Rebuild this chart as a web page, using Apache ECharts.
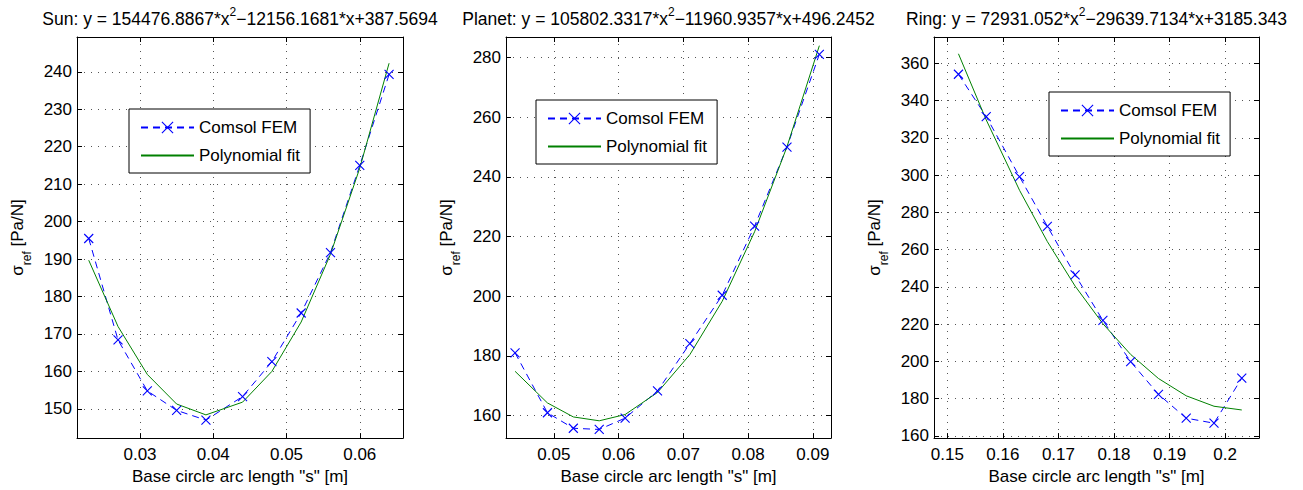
<!DOCTYPE html>
<html><head><meta charset="utf-8">
<script src="https://cdn.jsdelivr.net/npm/echarts@6/dist/echarts.min.js"></script>
<style>html,body{margin:0;padding:0;background:#fff}#c{width:1303px;height:490px}</style>
</head><body><div id="c"></div>
<script>
// ---- data ----
const sunX      = [0.023, 0.027, 0.031, 0.035, 0.039, 0.044, 0.048, 0.052, 0.056, 0.060, 0.064];
const sunFEM    = [195.5, 168.4, 154.8, 149.6, 147.0, 153.3, 162.6, 175.6, 191.7, 215.0, 239.3];
const sunFit    = [189.7, 172.0, 159.2, 151.3, 148.4, 151.8, 160.0, 173.2, 191.3, 214.3, 242.3];

const planetX   = [0.044, 0.049, 0.053, 0.057, 0.061, 0.066, 0.071, 0.076, 0.081, 0.086, 0.091];
const planetFEM = [181.0, 160.9, 155.7, 155.3, 159.1, 168.2, 184.1, 200.3, 223.5, 250.0, 281.1];
const planetFit = [174.8, 164.2, 159.5, 158.2, 160.3, 167.7, 180.4, 198.3, 221.6, 250.1, 284.0];

const ringX     = [0.152, 0.157, 0.163, 0.168, 0.173, 0.178, 0.183, 0.188, 0.193, 0.198, 0.203];
const ringFEM   = [354.1, 331.4, 299.1, 272.5, 246.4, 222.0, 199.8, 182.3, 169.5, 166.8, 191.0];
const ringFit   = [365.1, 329.6, 291.8, 264.3, 240.4, 220.2, 203.7, 190.8, 181.5, 175.9, 173.9];

const seriesNames = ['Comsol FEM', 'Polynomial fit'];
const titleParts = [
  ['Sun: y = 154476.8867*x', '2', '\u221212156.1681*x+387.5694'],
  ['Planet: y = 105802.3317*x', '2', '\u221211960.9357*x+496.2452'],
  ['Ring: y = 72931.052*x', '2', '\u221229639.7134*x+3185.343']
];
const xAxisName = 'Base circle arc length "s" [m]';
const yAxisName = ['\u03c3', 'ref', ' [Pa/N]'];

// ---- layout ----
const FONT = '"Liberation Sans", Arial, Helvetica, sans-serif';
const panels = [
  { x: sunX, fem: sunFEM, fit: sunFit, xr: [0.0214, 0.0659], yr: [142.2, 249.3], xs: 0.01, ys: 10,
    grid: { left: 77, top: 37, width: 326, height: 402 }, leg: { left: 129, top: 109 } },
  { x: planetX, fem: planetFEM, fit: planetFit, xr: [0.0426, 0.0928], yr: [152.4, 286.9], xs: 0.01, ys: 20,
    grid: { left: 506, top: 37, width: 325, height: 402 }, leg: { left: 536, top: 100 } },
  { x: ringX, fem: ringFEM, fit: ringFit, xr: [0.1476, 0.2061], yr: [158.8, 374.1], xs: 0.01, ys: 20,
    grid: { left: 934, top: 37, width: 325, height: 402 }, leg: { left: 1049, top: 92 } }
];

const grids = [], xAxes = [], yAxes = [], series = [], legends = [], graphics = [];
const crossPath = 'path://M0,0L10,10M10,0L0,10';
const axisLineStyle = { show: true, lineStyle: { color: '#000', width: 1 } };
const gridLine = { show: true, lineStyle: { color: '#555', width: 1, type: [1, 6] } };

panels.forEach((p, i) => {
  grids.push(Object.assign({ containLabel: false, show: false }, p.grid));
  const xb = {
    type: 'value', gridIndex: i, min: p.xr[0], max: p.xr[1], minInterval: p.xs, maxInterval: p.xs,
    axisLine: axisLineStyle, axisTick: { show: true, inside: true, length: 5, lineStyle: { color: '#000' } },
    axisLabel: { show: true, showMinLabel: false, showMaxLabel: false, color: '#000', fontSize: 17, fontFamily: FONT, margin: 8 },
    splitLine: gridLine
  };
  xAxes.push(Object.assign({}, xb, {
    position: 'bottom', name: xAxisName, nameLocation: 'middle', nameGap: 28,
    nameTextStyle: { color: '#000', fontSize: 17, fontFamily: FONT }
  }));
  xAxes.push(Object.assign({}, xb, { position: 'top', axisLabel: { show: false }, splitLine: { show: false } }));
  const yb = {
    type: 'value', gridIndex: i, min: p.yr[0], max: p.yr[1], minInterval: p.ys, maxInterval: p.ys,
    axisLine: axisLineStyle, axisTick: { show: true, inside: true, length: 5, lineStyle: { color: '#000' } },
    axisLabel: { show: true, showMinLabel: false, showMaxLabel: false, color: '#000', fontSize: 17, fontFamily: FONT, margin: 5 },
    splitLine: gridLine
  };
  yAxes.push(Object.assign({}, yb, {
    position: 'left', name: '{n|' + yAxisName[0] + '}{s|' + yAxisName[1] + '}{n|' + yAxisName[2] + '}',
    nameLocation: 'middle', nameGap: 44, nameRotate: 90,
    nameTextStyle: {
      color: '#000', fontSize: 17, fontFamily: FONT,
      rich: {
        n: { fontSize: 17, fontFamily: FONT, color: '#000', lineHeight: 24, verticalAlign: 'top' },
        s: { fontSize: 12, fontFamily: FONT, color: '#000', lineHeight: 24, verticalAlign: 'bottom' }
      }
    }
  }));
  yAxes.push(Object.assign({}, yb, { position: 'right', axisLabel: { show: false }, splitLine: { show: false } }));

  series.push({
    name: seriesNames[0], type: 'line', xAxisIndex: 2 * i, yAxisIndex: 2 * i,
    data: p.x.map((v, k) => [v, p.fem[k]]),
    symbol: crossPath, symbolSize: 9, showSymbol: true, showAllSymbol: true,
    lineStyle: { color: '#0000ff', width: 1, type: [7, 5] },
    itemStyle: { color: '#0000ff', borderColor: '#0000ff', borderWidth: 1.1 },
    emphasis: { disabled: true }, z: 3
  });
  series.push({
    name: seriesNames[1], type: 'line', xAxisIndex: 2 * i, yAxisIndex: 2 * i,
    data: p.x.map((v, k) => [v, p.fit[k]]),
    symbol: 'none', lineStyle: { color: '#008000', width: 1 }, itemStyle: { color: '#008000' },
    emphasis: { disabled: true }, z: 3
  });
  legends.push({
    data: [
      { name: seriesNames[0], itemStyle: { borderWidth: 1.1 } },
      { name: seriesNames[1], itemStyle: { opacity: 0, borderWidth: 0 } }
    ],
    orient: 'vertical', left: p.leg.left, top: p.leg.top,
    itemWidth: 53, itemHeight: 14, itemGap: 11, padding: [10, 10, 9, 11],
    backgroundColor: '#fff', borderColor: '#000', borderWidth: 1, borderRadius: 0,
    selectedMode: false, z: 10,
    textStyle: { color: '#000', fontSize: 17, fontFamily: FONT }
  });
  const t = titleParts[i];
  graphics.push({
    type: 'text', x: p.grid.left + p.grid.width / 2, y: 17, z: 10,
    style: {
      text: '{n|' + t[0] + '}{s|' + t[1] + '}{n|' + t[2] + '}',
      align: 'center', verticalAlign: 'middle', fill: '#000', font: '17.5px ' + FONT,
      rich: {
        n: { fontSize: 17.5, fontFamily: FONT, fill: '#000', lineHeight: 22, verticalAlign: 'bottom' },
        s: { fontSize: 12, fontFamily: FONT, fill: '#000', lineHeight: 22, verticalAlign: 'top' }
      }
    }
  });
});

const chart = echarts.init(document.getElementById('c'), null, { renderer: 'svg' });
chart.setOption({
  animation: false,
  backgroundColor: '#fff',
  grid: grids, xAxis: xAxes, yAxis: yAxes, series: series, legend: legends, graphic: graphics
});
</script></body></html>
